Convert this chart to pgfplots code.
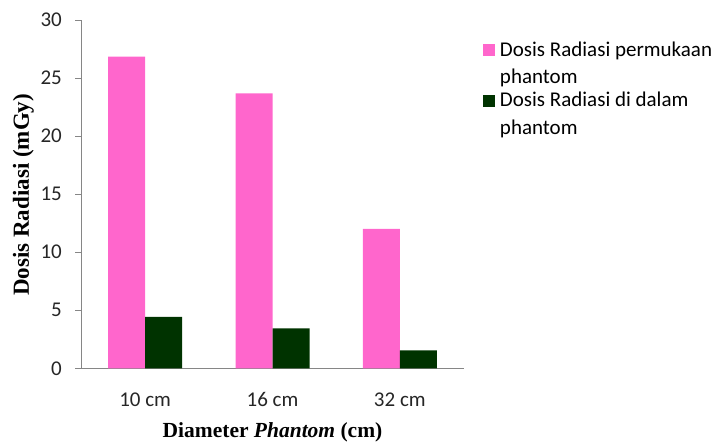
\documentclass[border=0pt]{standalone}
\usepackage{pgfplots}
\pgfplotsset{compat=1.18}
\usepackage{fontspec}
\setmainfont{Carlito}
\newfontfamily\labelfont{Liberation Serif}
\definecolor{pinkbar}{HTML}{FF66CC}
\definecolor{greenbar}{HTML}{003300}
\definecolor{axisgray}{HTML}{868686}

\pgfplotstableread{
x surface inside
0 26.84 4.42
1 23.69 3.44
2 12.00 1.55
}\dosetable

\begin{document}
\begin{tikzpicture}
\path[use as bounding box] (0,0) rectangle (718bp,443bp);
\begin{axis}[
  at={(81.5bp,74.7bp)}, anchor=south west,
  scale only axis, width=382bp, height=348.3bp,
  ybar=0pt, bar width=37bp,
  xmin=-0.5, xmax=2.5, ymin=0, ymax=30,
  xtick=data, xticklabels={10 cm,16 cm,32 cm},
  ytick={0,5,...,30},
  axis x line=bottom, axis y line=left,
  axis line style={axisgray, line width=0.8bp, -},
  x tick style={draw=none},
  y tick style={axisgray, line width=0.8bp},
  tick align=outside, major tick length=6bp,
  /pgf/number format/assume math mode=true,
  tick label style={font=\fontsize{21bp}{25bp}\selectfont, text=black!85},
  yticklabel style={anchor=east, inner sep=0pt, xshift=-13.5bp},
  xticklabel style={anchor=base, inner sep=0pt, yshift=-32.4bp},
  xlabel={\labelfont\bfseries Diameter \textit{Phantom} (cm)},
  ylabel={\labelfont\bfseries Dosis Radiasi (mGy)},
  xlabel style={font=\fontsize{21.5bp}{25bp}\selectfont,
    at={(axis description cs:0.5,0)}, anchor=center, yshift=-63.7bp},
  ylabel style={font=\fontsize{23bp}{27bp}\selectfont,
    at={(axis description cs:-0.152,0.498)}, anchor=center},
  legend style={at={(axis description cs:1.051,0.943)}, anchor=north west,
    draw=none, fill=none, inner sep=0pt, outer sep=0pt,
    font=\fontsize{21bp}{27.5bp}\selectfont,
    cells={anchor=west, align=left, inner ysep=0pt, inner xsep=4bp},
    row sep=3bp},
  legend image code/.code={\fill[#1] (0bp,7.5bp) rectangle (12bp,19.5bp);
    \path (15bp,10bp);},
]
\addplot[fill=pinkbar, draw=none] table[x=x, y=surface] {\dosetable};
\addplot[fill=greenbar, draw=none] table[x=x, y=inside] {\dosetable};
\addlegendentry{Dosis Radiasi permukaan\\phantom}
\addlegendentry{Dosis Radiasi di dalam\\phantom}
\end{axis}
\end{tikzpicture}
\end{document}
